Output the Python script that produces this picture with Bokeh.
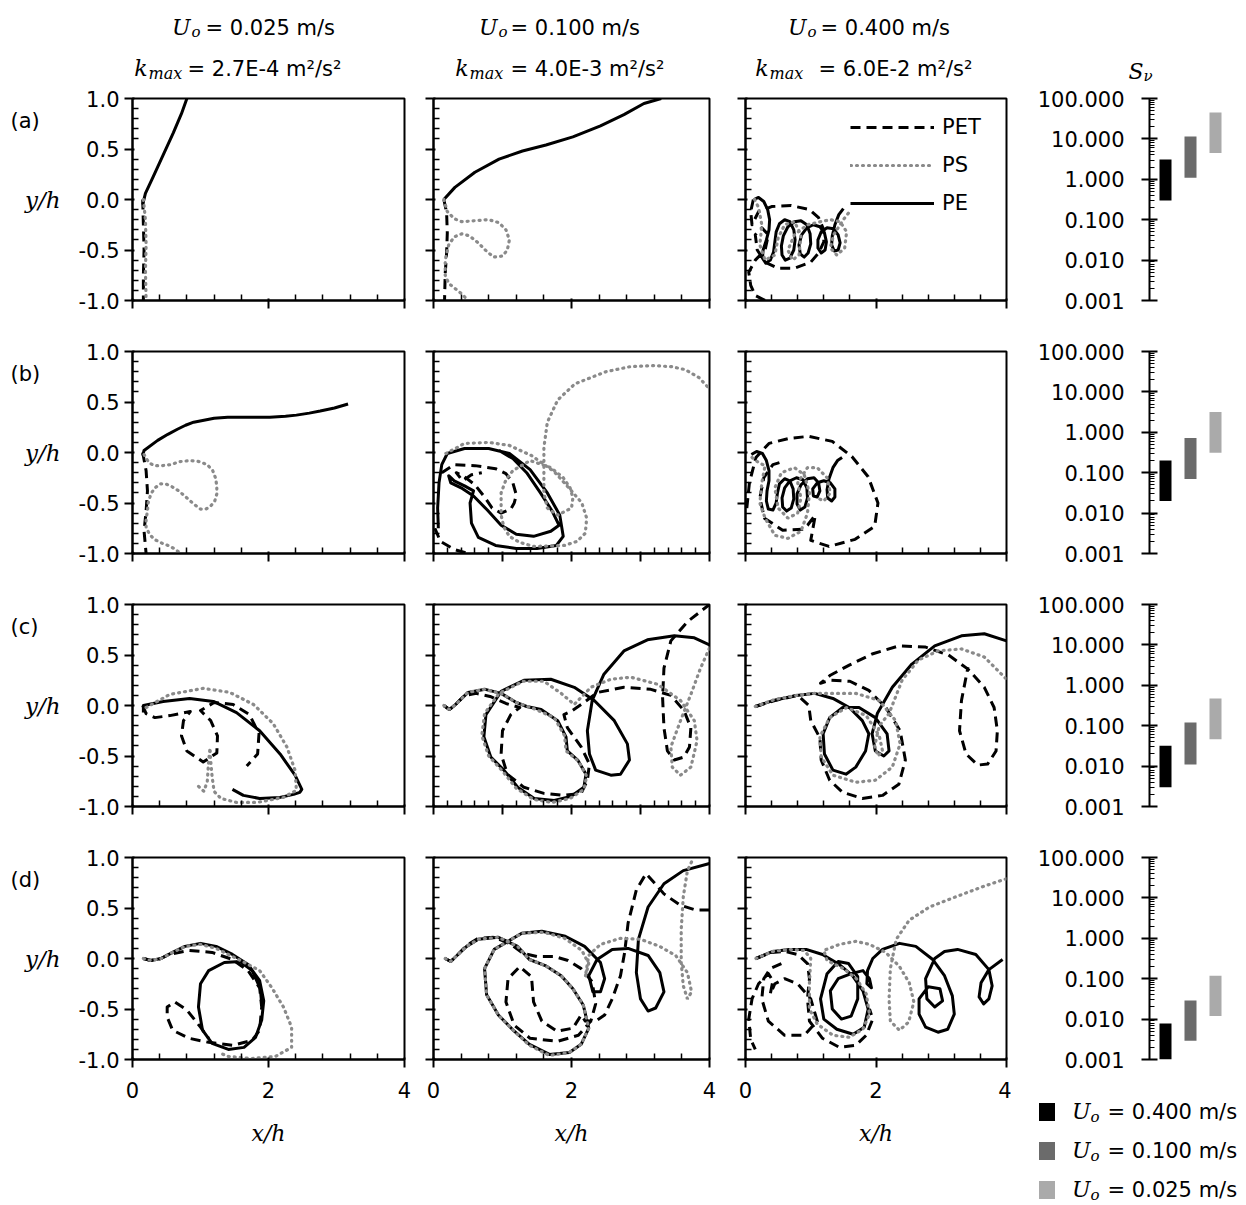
import math
from bokeh.plotting import figure
from bokeh.layouts import column, row
from bokeh.models import (Range1d, FixedTicker, Label, Legend, LegendItem, PrintfTickFormatter,
                          CustomJSTickFormatter, Div)
from bokeh.core.properties import value
from bokeh.embed import file_html
from bokeh.resources import INLINE

nan = float("nan")

# ---------------- data ----------------
SPEEDS = ["0.025", "0.100", "0.400"]
KMAX = ["2.7E-4", "4.0E-3", "6.0E-2"]
ROW_LABELS = ["(a)", "(b)", "(c)", "(d)"]
SERIES = ["PET", "PS", "PE"]

BAR_SPEEDS = ["0.400", "0.100", "0.025"]
BAR_COLORS = ["#000000", "#6b6b6b", "#aaaaaa"]
SNU_LOW = [[0.3, 1.1, 4.5], [0.02, 0.07, 0.31], [0.003, 0.011, 0.046], [0.001, 0.0029, 0.012]]
SNU_HIGH = [[3.1, 11.5, 45.0], [0.2, 0.72, 3.2], [0.032, 0.12, 0.47], [0.0078, 0.029, 0.118]]

Y_TICKS = [-1.0, -0.5, 0.0, 0.5, 1.0]
Y_MINOR = [-0.9, -0.8, -0.7, -0.6, -0.4, -0.3, -0.2, -0.1, 0.1, 0.2, 0.3, 0.4, 0.6, 0.7, 0.8, 0.9]
X_TICKS_A = [0, 2, 4]
X_MINOR_A = [0.4, 0.8, 1.2, 1.6, 2.4, 2.8, 3.2, 3.6]
X_TICKS_B = [0, 1, 2, 3, 4]
X_MINOR_B = [0.2, 0.4, 0.6, 0.8, 1.2, 1.4, 1.6, 1.8, 2.2, 2.4, 2.6, 2.8, 3.2, 3.4, 3.6, 3.8]
S_TICKS = [0.001, 0.01, 0.1, 1.0, 10.0, 100.0]
S_MINOR = [2e-3, 3e-3, 4e-3, 5e-3, 6e-3, 7e-3, 8e-3, 9e-3,
           2e-2, 3e-2, 4e-2, 5e-2, 6e-2, 7e-2, 8e-2, 9e-2,
           0.2, 0.3, 0.4, 0.5, 0.6, 0.7, 0.8, 0.9,
           2, 3, 4, 5, 6, 7, 8, 9, 20, 30, 40, 50, 60, 70, 80, 90]

# row (a)
A1_PET = [(0.15, 0.0), (0.16, -0.25), (0.17, -0.5), (0.16, -0.75), (0.16, -1.0)]
A1_PS = [(0.16, 0.0), (0.19, -0.2), (0.2, -0.45), (0.19, -0.7), (0.2, -1.0)]
A1_PE = [(0.15, -0.05), (0.19, 0.06), (0.3, 0.22), (0.45, 0.44), (0.6, 0.66), (0.72, 0.85), (0.8, 1.0)]

A2_PET = [(0.15, 0.0), (0.19, -0.13), (0.2, -0.33), (0.19, -0.53), (0.17, -0.73), (0.16, -1.0)]
A2_PS = [(0.15, 0.0), (0.2, -0.12), (0.3, -0.19), (0.41, -0.22), (0.6, -0.21), (0.8, -0.2), (0.95, -0.23),
         (1.05, -0.3), (1.1, -0.4), (1.07, -0.5), (1.0, -0.56), (0.87, -0.57), (0.75, -0.5), (0.65, -0.43),
         (0.52, -0.36), (0.41, -0.34), (0.3, -0.37), (0.22, -0.45), (0.17, -0.6), (0.17, -0.75), (0.22, -0.83),
         (0.31, -0.88), (0.42, -0.94), (0.5, -1.0)]
A2_PE = [(0.15, 0.0), (0.31, 0.12), (0.6, 0.27), (0.95, 0.4), (1.29, 0.48), (1.63, 0.54), (2.02, 0.62),
         (2.42, 0.73), (2.76, 0.84), (3.05, 0.95), (3.3, 1.0)]

A3_PET = [(0.12, 0.0), (0.08, -0.12), (0.1, -0.25), (0.2, -0.12), (0.4, -0.07), (0.7, -0.06), (0.98, -0.1),
          (1.12, -0.18), (1.2, -0.3), (1.2, -0.42), (1.12, -0.53), (1.0, -0.62), (0.75, -0.68), (0.5, -0.68),
          (0.3, -0.62), (0.18, -0.5), (0.15, -0.35), (0.25, -0.28), (0.35, -0.35), (0.3, -0.5), (0.15, -0.6),
          (0.05, -0.72), (0.08, -0.85), (0.15, -0.95), (0.3, -1.0)]
A3_PS = [(0.14, 0.0), (0.2, -0.08), (0.25, -0.25), (0.22, -0.45), (0.3, -0.6), (0.45, -0.55), (0.5, -0.38),
         (0.6, -0.25), (0.75, -0.22), (0.85, -0.35), (0.82, -0.55), (0.72, -0.6), (0.65, -0.5), (0.75, -0.35),
         (0.95, -0.25), (1.15, -0.22), (1.3, -0.2), (1.45, -0.22), (1.55, -0.32), (1.52, -0.48), (1.4, -0.55),
         (1.3, -0.48), (1.35, -0.35), (1.5, -0.2), (1.62, -0.1)]
A3_PE = [(0.13, 0.0), (0.2, 0.02), (0.28, -0.02), (0.34, -0.1), (0.37, -0.2), (0.36, -0.3), (0.32, -0.4),
         (0.27, -0.5), (0.26, -0.58), (0.31, -0.63), (0.38, -0.6), (0.43, -0.52), (0.45, -0.42), (0.47, -0.32),
         (0.52, -0.24), (0.6, -0.2), (0.68, -0.22), (0.74, -0.3), (0.76, -0.4), (0.74, -0.5), (0.68, -0.58),
         (0.61, -0.6), (0.56, -0.55), (0.55, -0.46), (0.58, -0.36), (0.65, -0.27), (0.75, -0.22), (0.85, -0.21),
         (0.94, -0.25), (0.99, -0.34), (1.0, -0.44), (0.96, -0.53), (0.9, -0.57), (0.84, -0.54), (0.82, -0.45),
         (0.86, -0.35), (0.94, -0.28), (1.04, -0.25), (1.14, -0.27), (1.21, -0.33), (1.24, -0.42), (1.22, -0.5),
         (1.16, -0.53), (1.11, -0.48), (1.11, -0.4), (1.16, -0.32), (1.25, -0.28), (1.35, -0.29), (1.42, -0.35),
         (1.45, -0.43), (1.42, -0.5), (1.36, -0.51), (1.32, -0.45), (1.33, -0.36), (1.37, -0.25), (1.43, -0.15),
         (1.5, -0.09)]

# row (b)
B1_PET = [(0.15, 0.0), (0.2, -0.18), (0.22, -0.38), (0.2, -0.58), (0.17, -0.78), (0.2, -1.0)]
B1_PS = [(0.17, -0.02), (0.24, -0.1), (0.32, -0.13), (0.44, -0.13), (0.56, -0.12), (0.7, -0.09), (0.85, -0.08),
         (0.98, -0.09), (1.1, -0.12), (1.18, -0.18), (1.22, -0.25), (1.24, -0.33), (1.24, -0.41), (1.21, -0.48),
         (1.15, -0.53), (1.08, -0.56), (1.0, -0.56), (0.9, -0.51), (0.8, -0.45), (0.68, -0.38), (0.56, -0.33),
         (0.48, -0.31), (0.41, -0.31), (0.33, -0.35), (0.27, -0.41), (0.23, -0.5), (0.22, -0.58), (0.2, -0.66),
         (0.2, -0.74), (0.25, -0.81), (0.32, -0.86), (0.44, -0.9), (0.56, -0.93), (0.65, -0.97), (0.71, -1.0)]
B1_PE = [(0.15, -0.03), (0.17, 0.02), (0.37, 0.12), (0.52, 0.18), (0.66, 0.23), (0.78, 0.27), (0.9, 0.3),
         (1.05, 0.32), (1.2, 0.34), (1.4, 0.35), (1.63, 0.35), (2.02, 0.35), (2.25, 0.36), (2.41, 0.37),
         (2.6, 0.39), (2.76, 0.41), (2.97, 0.44), (3.17, 0.48)]

B2_PET = [(0.12, -0.2), (0.3, -0.12), (0.6, -0.13), (0.9, -0.16), (1.05, -0.21), (1.15, -0.3), (1.2, -0.42),
          (1.17, -0.5), (1.12, -0.56), (0.98, -0.6), (0.85, -0.55), (0.75, -0.45), (0.6, -0.32), (0.45, -0.24),
          (0.33, -0.2), (0.42, -0.28), (0.55, -0.22), (0.7, -0.2), (nan, nan), (0.02, -0.75), (0.1, -0.88),
          (0.3, -0.96), (0.5, -1.0)]
B2_PS = [(0.18, -0.01), (0.45, 0.09), (0.8, 0.1), (1.1, 0.07), (1.42, -0.03), (1.75, -0.19), (2.0, -0.38),
         (2.15, -0.5), (2.22, -0.65), (2.2, -0.8), (2.08, -0.88), (1.9, -0.92), (1.45, -0.93), (1.25, -0.89),
         (1.1, -0.83), (1.02, -0.74), (0.98, -0.62), (0.98, -0.4), (1.05, -0.27), (1.15, -0.18), (1.4, -0.08),
         (1.7, -0.15), (1.88, -0.25), (1.98, -0.35), (2.02, -0.45), (2.0, -0.55), (1.8, -0.62), (1.65, -0.55),
         (1.6, -0.4), (1.6, -0.2), (1.6, 0.05), (1.65, 0.3), (1.8, 0.52), (2.05, 0.68), (2.5, 0.8), (2.85, 0.85),
         (3.2, 0.86), (3.45, 0.85), (3.65, 0.82), (3.85, 0.74), (4.0, 0.63)]
B2_PE = [(0.07, -0.75), (0.06, -0.55), (0.08, -0.3), (0.12, -0.12), (0.2, -0.01), (0.45, 0.04), (0.8, 0.04),
         (1.1, -0.01), (1.4, -0.17), (1.65, -0.4), (1.83, -0.62), (1.88, -0.83), (1.78, -0.92), (1.5, -0.95),
         (1.2, -0.95), (0.9, -0.92), (0.65, -0.84), (0.55, -0.7), (0.53, -0.5), (0.58, -0.38), (0.45, -0.33),
         (0.3, -0.28), (0.22, -0.23), (0.25, -0.3), (0.4, -0.35), (0.58, -0.43), (0.78, -0.57), (0.98, -0.72),
         (1.2, -0.81), (1.45, -0.83), (1.7, -0.78), (1.82, -0.72), (1.72, -0.58), (1.55, -0.4), (1.35, -0.2),
         (1.15, -0.06), (0.95, 0.02)]

B3_PET = [(0.02, -0.55), (0.06, -0.3), (0.16, -0.05), (0.36, 0.09), (0.67, 0.14), (0.97, 0.16), (1.33, 0.11),
          (1.63, -0.04), (1.88, -0.24), (2.03, -0.5), (1.98, -0.73), (1.68, -0.86), (1.28, -0.93), (1.0, -0.87),
          (1.07, -0.62), (0.95, -0.72), (0.87, -0.76), (0.57, -0.77), (0.29, -0.65), (0.22, -0.45), (0.28, -0.25),
          (0.42, -0.12), (0.52, -0.1)]
B3_PS = [(0.1, -0.05), (0.2, -0.1), (0.3, -0.13), (0.25, -0.3), (0.22, -0.5), (0.3, -0.65), (0.45, -0.82),
         (0.65, -0.85), (0.85, -0.78), (0.95, -0.6), (0.98, -0.4), (0.9, -0.22), (0.75, -0.15), (0.55, -0.2),
         (0.45, -0.35), (0.5, -0.55), (0.65, -0.65), (0.8, -0.6), (0.85, -0.45), (0.8, -0.3), (0.95, -0.15),
         (1.1, -0.15), (1.25, -0.25), (1.3, -0.4), (1.2, -0.48), (1.1, -0.45)]
B3_PE = [(0.09, -0.02), (0.17, 0.01), (0.26, -0.01), (0.32, -0.08), (0.36, -0.18), (0.36, -0.28), (0.33, -0.38),
         (0.32, -0.48), (0.35, -0.56), (0.42, -0.57), (0.47, -0.5), (0.49, -0.4), (0.52, -0.31), (0.6, -0.26),
         (0.68, -0.28), (0.73, -0.36), (0.74, -0.46), (0.7, -0.55), (0.63, -0.58), (0.57, -0.54), (0.56, -0.45),
         (0.6, -0.35), (0.68, -0.28), (0.78, -0.25), (0.88, -0.27), (0.94, -0.35), (0.95, -0.45), (0.91, -0.54),
         (0.84, -0.57), (0.79, -0.51), (0.79, -0.41), (0.85, -0.32), (0.95, -0.26), (1.05, -0.25), (1.12, -0.3),
         (1.14, -0.38), (1.1, -0.44), (1.04, -0.43), (1.03, -0.36), (1.1, -0.3), (1.2, -0.28), (1.3, -0.3),
         (1.37, -0.36), (1.37, -0.44), (1.32, -0.48), (1.26, -0.45), (1.25, -0.37), (1.28, -0.26), (1.34, -0.15),
         (1.41, -0.08), (1.48, -0.05)]

# row (c)
C1_PET = [(0.15, 0.0), (0.2, -0.08), (0.33, -0.12), (0.55, -0.1), (0.85, -0.06), (0.75, -0.15), (0.72, -0.3),
          (0.8, -0.45), (1.04, -0.56), (1.24, -0.47), (1.25, -0.3), (1.15, -0.15), (1.0, -0.05), (1.2, 0.03),
          (1.48, 0.01), (1.72, -0.09), (1.86, -0.28), (1.84, -0.48), (1.68, -0.6)]
C1_PS = [(0.2, -0.02), (0.55, 0.11), (1.04, 0.17), (1.43, 0.13), (1.78, 0.01), (2.07, -0.18), (2.27, -0.41),
         (2.39, -0.64), (2.41, -0.84), (2.22, -0.91), (1.83, -0.96), (1.53, -0.96), (1.3, -0.92), (1.2, -0.85),
         (1.17, -0.7), (1.15, -0.55), (1.14, -0.42), (1.12, -0.55), (1.1, -0.75), (1.05, -0.85), (0.97, -0.8)]
C1_PE = [(0.16, -0.07), (0.16, 0.0), (0.45, 0.04), (0.84, 0.07), (1.19, 0.04), (1.53, -0.07), (1.87, -0.25),
         (2.17, -0.48), (2.39, -0.69), (2.49, -0.83), (2.46, -0.86), (2.37, -0.88), (2.17, -0.91), (1.87, -0.92),
         (1.63, -0.89), (1.47, -0.83)]

C2_PET = [(0.15, 0.0), (0.23, -0.04), (0.32, 0.01), (0.45, 0.1), (0.62, 0.12), (0.82, 0.09), (1.05, 0.02),
          (1.25, -0.02), (1.12, -0.09), (1.0, -0.25), (0.98, -0.48), (1.07, -0.68), (1.31, -0.81), (1.6, -0.87),
          (1.89, -0.89), (2.14, -0.87), (2.23, -0.74), (2.26, -0.58), (2.14, -0.41), (1.94, -0.22), (1.89, -0.09),
          (1.99, -0.06), (2.14, 0.01), (2.38, 0.13), (2.76, 0.18), (3.15, 0.16), (3.44, 0.1), (3.63, -0.05),
          (3.73, -0.22), (3.71, -0.41), (3.63, -0.51), (3.49, -0.54), (3.39, -0.45), (3.34, -0.22), (3.32, 0.08),
          (3.34, 0.37), (3.44, 0.64), (3.68, 0.83), (4.0, 1.0)]
C2_PS = [(0.15, 0.0), (0.23, -0.04), (0.32, 0.01), (0.5, 0.13), (0.73, 0.16), (0.98, 0.12), (1.2, 0.03),
         (1.45, -0.03), (1.75, -0.12), (1.9, -0.3), (1.92, -0.45), (2.1, -0.55), (2.22, -0.7), (2.18, -0.83),
         (1.98, -0.92), (1.72, -0.96), (1.45, -0.93), (1.2, -0.82), (1.0, -0.65), (0.8, -0.5), (0.7, -0.3),
         (0.74, -0.08), (0.95, 0.12), (1.3, 0.24), (1.6, 0.24), (1.85, 0.12), (2.04, 0.01), (2.28, 0.18),
         (2.57, 0.26), (2.86, 0.28), (3.25, 0.21), (3.58, 0.05), (3.78, -0.15), (3.82, -0.35), (3.73, -0.61),
         (3.58, -0.69), (3.46, -0.61), (3.44, -0.41), (3.58, -0.15), (3.73, 0.11), (3.87, 0.37), (4.0, 0.57)]
C2_PE = [(0.15, 0.0), (0.23, -0.04), (0.32, 0.01), (0.5, 0.13), (0.75, 0.16), (0.98, 0.12), (1.2, 0.03),
         (1.35, -0.01), (1.56, -0.04), (1.8, -0.15), (1.92, -0.31), (1.94, -0.45), (2.09, -0.54), (2.21, -0.68),
         (2.18, -0.81), (1.99, -0.9), (1.75, -0.94), (1.46, -0.92), (1.22, -0.81), (1.02, -0.64), (0.83, -0.51),
         (0.73, -0.31), (0.76, -0.09), (0.98, 0.14), (1.31, 0.25), (1.7, 0.26), (2.04, 0.18), (2.33, 0.05),
         (2.62, -0.15), (2.81, -0.38), (2.84, -0.54), (2.71, -0.68), (2.57, -0.69), (2.35, -0.64), (2.26, -0.48),
         (2.23, -0.25), (2.3, 0.05), (2.47, 0.31), (2.76, 0.54), (3.1, 0.65), (3.49, 0.69), (3.78, 0.67),
         (4.0, 0.6)]

C3_PET = [(0.15, -0.01), (0.45, 0.05), (0.8, 0.1), (0.97, 0.0), (1.0, -0.15), (1.14, -0.32), (1.16, -0.54),
          (1.29, -0.74), (1.49, -0.86), (1.79, -0.92), (2.1, -0.89), (2.35, -0.78), (2.45, -0.54), (2.37, -0.25),
          (2.15, -0.02), (1.89, 0.15), (1.6, 0.24), (1.3, 0.25), (1.15, 0.22), (1.3, 0.3), (1.59, 0.4),
          (1.94, 0.51), (2.35, 0.59), (2.75, 0.58), (3.11, 0.5), (3.41, 0.36), (3.66, 0.18), (3.81, -0.02),
          (3.86, -0.25), (3.84, -0.45), (3.71, -0.58), (3.56, -0.59), (3.38, -0.48), (3.28, -0.25), (3.31, 0.05),
          (3.41, 0.38)]
C3_PS = [(0.15, -0.01), (0.45, 0.06), (0.78, 0.1), (1.06, 0.12), (1.34, 0.12), (1.69, 0.12), (2.05, 0.05),
         (2.3, -0.15), (2.37, -0.38), (2.25, -0.61), (1.99, -0.74), (1.69, -0.76), (1.34, -0.69), (1.16, -0.51),
         (1.14, -0.31), (1.29, -0.12), (1.55, -0.02), (1.85, -0.1), (2.05, -0.3), (2.1, -0.45), (2.03, -0.5),
         (1.98, -0.4), (2.05, -0.2), (2.2, -0.08), (2.4, 0.25), (2.65, 0.45), (2.95, 0.54), (3.31, 0.56),
         (3.66, 0.48), (4.0, 0.26)]
C3_PE = [(0.15, -0.01), (0.43, 0.05), (0.78, 0.1), (1.06, 0.12), (1.34, 0.07), (1.59, -0.02), (1.79, -0.15),
         (1.89, -0.28), (1.84, -0.45), (1.69, -0.61), (1.54, -0.68), (1.34, -0.64), (1.21, -0.48), (1.19, -0.28),
         (1.29, -0.12), (1.49, -0.02), (1.74, -0.02), (1.99, -0.12), (2.17, -0.28), (2.2, -0.45), (2.12, -0.5),
         (1.99, -0.45), (1.94, -0.28), (2.02, -0.08), (2.25, 0.18), (2.55, 0.41), (2.9, 0.59), (3.31, 0.69),
         (3.66, 0.71), (4.0, 0.64)]

# row (d)
D1_PET = [(0.16, 0.0), (0.27, -0.02), (0.42, 0.0), (0.53, 0.04), (0.83, 0.08), (1.17, 0.06), (1.47, -0.01),
          (1.7, -0.12), (1.87, -0.29), (1.9, -0.48), (1.87, -0.71), (1.76, -0.81), (1.47, -0.86), (1.12, -0.83),
          (0.83, -0.79), (0.59, -0.71), (0.51, -0.58), (0.51, -0.48), (0.62, -0.43), (0.8, -0.51), (1.0, -0.68),
          (1.12, -0.79)]
D1_PS = [(0.16, 0.0), (0.27, -0.02), (0.42, 0.0), (0.59, 0.06), (0.77, 0.12), (1.0, 0.14), (1.23, 0.1),
         (1.47, 0.02), (1.62, -0.03), (1.87, -0.12), (2.05, -0.29), (2.22, -0.48), (2.34, -0.68), (2.34, -0.88),
         (2.1, -0.97), (1.76, -0.99), (1.41, -0.97), (1.3, -0.94)]
D1_PE = [(0.16, 0.0), (0.27, -0.02), (0.42, 0.0), (0.59, 0.06), (0.77, 0.12), (1.0, 0.15), (1.23, 0.12),
         (1.47, 0.04), (1.7, -0.06), (1.87, -0.22), (1.93, -0.42), (1.9, -0.61), (1.81, -0.78), (1.64, -0.88),
         (1.41, -0.9), (1.17, -0.84), (1.03, -0.71), (0.97, -0.48), (1.0, -0.25), (1.12, -0.12), (1.35, -0.04),
         (1.58, -0.03), (1.76, -0.12), (1.88, -0.3), (1.9, -0.45)]

D2_PET = [(0.17, 0.0), (0.25, -0.03), (0.34, 0.03), (0.48, 0.13), (0.65, 0.2), (0.88, 0.21), (1.1, 0.15),
          (1.3, 0.05), (1.5, 0.02), (1.75, 0.02), (1.95, -0.02), (2.14, -0.1), (2.3, -0.23), (2.35, -0.45),
          (2.28, -0.62), (2.1, -0.76), (1.8, -0.82), (1.4, -0.79), (1.17, -0.66), (1.05, -0.43), (1.08, -0.2),
          (1.25, -0.08), (1.42, -0.18), (1.45, -0.43), (1.57, -0.62), (1.79, -0.72), (2.02, -0.69), (2.14, -0.56),
          (2.2, -0.62), (2.35, -0.62), (2.48, -0.56), (2.59, -0.4), (2.71, -0.17), (2.77, 0.06), (2.82, 0.35),
          (2.94, 0.68), (3.08, 0.84), (3.2, 0.75), (3.34, 0.64), (3.57, 0.53), (3.8, 0.48), (4.0, 0.48)]
D2_PS = [(0.17, 0.0), (0.25, -0.03), (0.34, 0.03), (0.48, 0.12), (0.65, 0.19), (0.94, 0.21), (1.22, 0.12),
         (1.39, -0.01), (1.62, -0.07), (1.85, -0.17), (2.02, -0.3), (2.17, -0.46), (2.25, -0.69), (2.14, -0.85),
         (1.97, -0.93), (1.68, -0.96), (1.39, -0.86), (1.17, -0.72), (0.94, -0.56), (0.77, -0.36), (0.74, -0.1),
         (0.88, 0.09), (1.28, 0.25), (1.6, 0.26), (1.9, 0.2), (2.15, 0.08), (2.25, -0.05), (2.2, -0.18),
         (2.25, 0.03), (2.42, 0.14), (2.71, 0.2), (3.0, 0.19), (3.28, 0.12), (3.51, 0.03), (3.68, -0.14),
         (3.74, -0.33), (3.68, -0.4), (3.62, -0.27), (3.59, -0.04), (3.59, 0.29), (3.62, 0.61), (3.68, 0.87),
         (3.77, 1.0)]
D2_PE = [(0.17, 0.0), (0.25, -0.03), (0.34, 0.03), (0.48, 0.12), (0.65, 0.19), (0.94, 0.21), (1.22, 0.12),
         (1.39, -0.01), (1.62, -0.07), (1.85, -0.17), (2.02, -0.3), (2.17, -0.46), (2.25, -0.69), (2.14, -0.85),
         (1.97, -0.93), (1.68, -0.95), (1.39, -0.85), (1.17, -0.72), (0.94, -0.56), (0.77, -0.36), (0.74, -0.1),
         (0.88, 0.09), (1.28, 0.25), (1.57, 0.27), (1.91, 0.22), (2.19, 0.12), (2.42, -0.04), (2.48, -0.2),
         (2.42, -0.33), (2.31, -0.33), (2.25, -0.17), (2.37, -0.01), (2.59, 0.09), (2.82, 0.1), (3.11, 0.03),
         (3.28, -0.14), (3.34, -0.33), (3.22, -0.49), (3.11, -0.52), (3.0, -0.4), (2.94, -0.14), (2.97, 0.19),
         (3.11, 0.51), (3.34, 0.74), (3.62, 0.87), (4.0, 0.94)]

D3_PET = [(0.16, 0.0), (0.4, 0.06), (0.6, 0.07), (0.8, 0.04), (0.95, -0.05), (0.98, -0.2), (0.95, -0.4),
          (0.98, -0.62), (1.18, -0.79), (1.44, -0.88), (1.69, -0.86), (1.85, -0.76), (1.95, -0.6), (1.9, -0.5),
          (nan, nan), (0.55, -0.05), (0.38, -0.1), (0.28, -0.2), (0.25, -0.4), (0.35, -0.62), (0.6, -0.76),
          (0.9, -0.76), (1.1, -0.62), (1.0, -0.4), (0.8, -0.25), (0.6, -0.2), (0.45, -0.25), (0.38, -0.35),
          (0.42, -0.22), (0.35, -0.15), (0.2, -0.25), (0.1, -0.4), (0.05, -0.6), (0.08, -0.8), (0.15, -0.9)]
D3_PS = [(0.16, 0.0), (0.42, 0.07), (0.67, 0.09), (0.9, 0.08), (1.0, 0.0), (0.98, -0.24), (0.98, -0.5),
         (1.1, -0.65), (1.34, -0.76), (1.59, -0.78), (1.8, -0.7), (1.9, -0.55), (1.85, -0.35), (1.7, -0.2),
         (1.5, -0.1), (1.25, -0.02), (1.2, 0.08), (1.44, 0.14), (1.69, 0.17), (1.9, 0.14), (2.15, 0.06),
         (2.36, -0.08), (2.51, -0.24), (2.58, -0.43), (2.5, -0.63), (2.36, -0.71), (2.22, -0.62), (2.2, -0.4),
         (2.22, -0.1), (2.31, 0.19), (2.51, 0.38), (2.82, 0.51), (3.22, 0.61), (3.63, 0.71), (4.0, 0.79)]
D3_PE = [(0.16, 0.0), (0.42, 0.07), (0.67, 0.09), (0.93, 0.09), (1.18, 0.04), (1.44, -0.06), (1.64, -0.17),
         (1.8, -0.32), (1.88, -0.5), (1.82, -0.68), (1.65, -0.75), (1.4, -0.7), (1.2, -0.6), (1.15, -0.4),
         (1.25, -0.15), (1.42, -0.03), (1.58, -0.05), (1.72, -0.18), (1.72, -0.4), (1.62, -0.57), (1.47, -0.6),
         (1.33, -0.5), (1.3, -0.32), (1.42, -0.2), (1.62, -0.15), (1.8, -0.12), (1.9, -0.2), (1.93, -0.29),
         (1.86, -0.25), (1.87, -0.12), (1.95, 0.0), (2.1, 0.09), (2.36, 0.15), (2.61, 0.12), (2.87, -0.01),
         (3.05, -0.17), (3.17, -0.37), (3.2, -0.55), (3.1, -0.7), (2.95, -0.73), (2.76, -0.68), (2.66, -0.55),
         (2.66, -0.4), (2.8, -0.28), (2.98, -0.3), (3.02, -0.42), (2.9, -0.48), (2.78, -0.4), (2.76, -0.2),
         (2.9, 0.0), (3.05, 0.07), (3.25, 0.09), (3.53, 0.04), (3.73, -0.11), (3.78, -0.27), (3.73, -0.4),
         (3.65, -0.45), (3.58, -0.38), (3.61, -0.24), (3.73, -0.11), (3.94, -0.01)]

PANELS = [
    [(A1_PET, A1_PS, A1_PE), (A2_PET, A2_PS, A2_PE), (A3_PET, A3_PS, A3_PE)],
    [(B1_PET, B1_PS, B1_PE), (B2_PET, B2_PS, B2_PE), (B3_PET, B3_PS, B3_PE)],
    [(C1_PET, C1_PS, C1_PE), (C2_PET, C2_PS, C2_PE), (C3_PET, C3_PS, C3_PE)],
    [(D1_PET, D1_PS, D1_PE), (D2_PET, D2_PS, D2_PE), (D3_PET, D3_PS, D3_PE)],
]

# ---------------- styling / layout ----------------
SANS = "DejaVu Sans"
SERIF = "DejaVu Serif"
FS = "21px"
LABEL_COL_W = 75
FRAME_W = [272, 276, 261]
BORDER_L = [55, 14, 18]
BORDER_R = [15, 18, 5]
FRAME_H = 202
TOP_B = 10
BOT_B = 41
BOT_B_LAST = 146
HEADER_H = 88
ROW_H = TOP_B + FRAME_H + BOT_B
LEGEND_H = BOT_B_LAST - BOT_B
PAGE_W = 1246
BAR_FIG_X = 1009


def xs(path):
    return [pt[0] for pt in path]


def ys(path):
    return [pt[1] for pt in path]


def add_label(fig, x, y, text, font=SANS, size=FS, style="normal", align="left", baseline="alphabetic"):
    fig.add_layout(Label(x=x, y=y, text=text, text_font=font, text_font_size=size, text_font_style=style,
                         text_align=align, text_baseline=baseline, text_color="black"))


def blank_fig(width, height, x0, x1, y_bottom, y_top, top_b=0, bot_b=0):
    f = figure(frame_width=width, frame_height=height, x_range=Range1d(x0, x1), y_range=Range1d(y_bottom, y_top),
               min_border_left=0, min_border_right=0, min_border_top=top_b, min_border_bottom=bot_b,
               toolbar_location=None, output_backend="svg", x_axis_location=None, y_axis_location=None)
    f.grid.visible = False
    f.outline_line_color = None
    return f


EMPTY = CustomJSTickFormatter(code="return ''")


def style_axis(ax, show_labels):
    ax.axis_line_width = 2
    ax.axis_line_color = "black"
    ax.major_tick_line_width = 2
    ax.minor_tick_line_width = 1.5
    ax.major_tick_out = 8
    ax.major_tick_in = 2
    ax.minor_tick_in = 6
    ax.minor_tick_out = 0
    ax.major_label_text_font = SANS
    ax.major_label_text_color = "black"
    ax.major_label_text_font_size = FS
    if not show_labels:
        ax.formatter = EMPTY
        ax.major_label_standoff = 0


def traj_panel(ri, ci):
    pet, ps, pe = PANELS[ri][ci]
    last = ri == 3
    p = figure(frame_width=FRAME_W[ci], frame_height=FRAME_H, x_range=Range1d(0, 4), y_range=Range1d(-1, 1),
               min_border_left=BORDER_L[ci], min_border_right=BORDER_R[ci], min_border_top=TOP_B,
               min_border_bottom=BOT_B_LAST if last else BOT_B, toolbar_location=None, output_backend="svg")
    p.grid.visible = False
    p.outline_line_color = "black"
    p.outline_line_width = 2

    r_pe = p.line(xs(pe), ys(pe), line_color="black", line_width=3, line_join="round")
    r_pet = p.line(xs(pet), ys(pet), line_color="black", line_width=3, line_dash="10 6", line_join="round")
    r_ps = p.line(xs(ps), ys(ps), line_color="#8a8a8a", line_width=3.2, line_dash="1 5", line_cap="round")

    xa = p.xaxis[0]
    ya = p.yaxis[0]
    if ci == 1 and ri in (1, 2):
        xa.ticker = FixedTicker(ticks=X_TICKS_B, minor_ticks=X_MINOR_B)
    else:
        xa.ticker = FixedTicker(ticks=X_TICKS_A, minor_ticks=X_MINOR_A)
    ya.ticker = FixedTicker(ticks=Y_TICKS, minor_ticks=Y_MINOR)
    ya.formatter = PrintfTickFormatter(format="%.1f")
    xa.formatter = PrintfTickFormatter(format="%.0f")
    style_axis(xa, last)
    style_axis(ya, ci == 0)
    if ci == 0:
        ya.major_label_standoff = 5
    if last:
        xa.major_label_standoff = 14
        xa.axis_label = "x/h"
        xa.axis_label_text_font = SERIF
        xa.axis_label_text_font_style = "italic"
        xa.axis_label_text_font_size = "22px"
        xa.axis_label_standoff = 20
        xa.axis_label_text_color = "black"

    if ri == 0 and ci == 2:
        leg = Legend(items=[LegendItem(label=value(SERIES[0]), renderers=[r_pet]),
                            LegendItem(label=value(SERIES[1]), renderers=[r_ps]),
                            LegendItem(label=value(SERIES[2]), renderers=[r_pe])],
                     location=(105, 85), orientation="vertical", padding=0, margin=0, spacing=14,
                     glyph_width=84, glyph_height=24, label_height=24, label_standoff=8,
                     label_text_font=SANS, label_text_font_size=FS, label_text_color="black",
                     border_line_color=None, background_fill_alpha=0)
        p.add_layout(leg)
    return p


def row_label_fig(ri):
    # narrow text column at the left: row tag "(a)" and the y/h axis title, in page pixel units
    ftop = HEADER_H + ROW_H * ri + TOP_B
    f = blank_fig(LABEL_COL_W, FRAME_H, 0, LABEL_COL_W, ftop + FRAME_H, ftop,
                  top_b=TOP_B, bot_b=BOT_B_LAST if ri == 3 else BOT_B)
    add_label(f, 10, ftop + 22, ROW_LABELS[ri], baseline="middle")
    add_label(f, 60, ftop + FRAME_H / 2, "y/h", font=SERIF, size="23px", style="italic", align="right",
              baseline="middle")
    return f


BAR_X0, BAR_X1 = 0.36, 3.88
BAR_FW = 88


def bar_panel(ri):
    p = figure(frame_width=BAR_FW, frame_height=FRAME_H, x_range=Range1d(BAR_X0, BAR_X1),
               y_range=Range1d(0.001, 100), y_axis_type="log",
               min_border_left=138, min_border_right=11, min_border_top=TOP_B,
               min_border_bottom=BOT_B, toolbar_location=None, output_backend="svg")
    p.grid.visible = False
    p.outline_line_color = None
    p.xaxis.visible = False
    xpos = [i + 1 for i in range(len(BAR_SPEEDS))]
    p.vbar(x=xpos, bottom=SNU_LOW[ri], top=SNU_HIGH[ri], width=0.48, fill_color=BAR_COLORS, line_color=None)
    ya = p.yaxis[0]
    ya.ticker = FixedTicker(ticks=S_TICKS, minor_ticks=S_MINOR)
    ya.formatter = PrintfTickFormatter(format="%.3f")
    ya.axis_line_width = 2
    ya.major_tick_line_width = 2
    ya.minor_tick_line_width = 1.2
    ya.major_tick_out = 8
    ya.major_tick_in = 8
    ya.minor_tick_in = 5
    ya.minor_tick_out = 0
    ya.major_label_text_font = SANS
    ya.major_label_text_font_size = FS
    ya.major_label_text_color = "black"
    ya.major_label_standoff = 17
    return p


def speed_legend():
    # legend of the S_nu bars (key squares + labels), rendered as HTML text below the last bar panel
    w = PAGE_W - BAR_FIG_X
    parts = ['<div style="position:relative;width:%dpx;height:%dpx;font-family:\'DejaVu Sans\';'
             'font-size:21px;color:#000;">' % (w, LEGEND_H)]
    for i, spd in enumerate(BAR_SPEEDS):
        cy = 12 + 39 * i
        parts.append('<div style="position:absolute;left:28px;top:%dpx;width:16px;height:18px;'
                     'background:%s;"></div>' % (cy - 9, BAR_COLORS[i]))
        parts.append('<div style="position:absolute;left:61px;top:%dpx;height:22px;line-height:22px;'
                     'white-space:nowrap;">'
                     '<span style="font-family:\'DejaVu Serif\';font-style:italic;font-size:22px;">U</span>'
                     '<span style="font-family:\'DejaVu Serif\';font-style:italic;font-size:15px;'
                     'position:relative;top:3px;">o</span>'
                     '<span style="margin-left:8px;">= %s m/s</span></div>' % (cy - 11, spd))
    parts.append('</div>')
    return Div(text="".join(parts), width=w, height=LEGEND_H, margin=(0, 0, 0, 0))


# ---------------- header ----------------
hdr = blank_fig(PAGE_W, HEADER_H, 0, PAGE_W, HEADER_H, 0)

U_RIGHT = [190, 497, 806]
EQ1_X = [205, 510, 820]
K_RIGHT = [147, 468, 768]
EQ2_X = [187, 510, 818]
for c in range(3):
    add_label(hdr, U_RIGHT[c], 27, "U", font=SERIF, size="22px", style="italic", align="right")
    add_label(hdr, U_RIGHT[c] + 1, 31, "o", font=SERIF, size="15px", style="italic")
    add_label(hdr, EQ1_X[c], 27, "= %s m/s" % SPEEDS[c])
    add_label(hdr, K_RIGHT[c], 68, "k", font=SERIF, size="22px", style="italic", align="right")
    add_label(hdr, K_RIGHT[c] + 1, 73, "max", font=SERIF, size="16px", style="italic")
    add_label(hdr, EQ2_X[c], 68, "= %s m\u00b2/s\u00b2" % KMAX[c])
add_label(hdr, 1128, 71, "S", font=SERIF, size="22px", style="italic")
add_label(hdr, 1143, 75, "\u03bd", font=SERIF, size="15px", style="italic")

rows = []
for ri in range(4):
    right = bar_panel(ri)
    if ri == 3:
        right = column(right, speed_legend(), spacing=0)
    rows.append(row(row_label_fig(ri), traj_panel(ri, 0), traj_panel(ri, 1), traj_panel(ri, 2), right,
                    spacing=0))

layout = column(hdr, *rows, spacing=0)

open("out.html", "w").write(file_html(layout, INLINE))
